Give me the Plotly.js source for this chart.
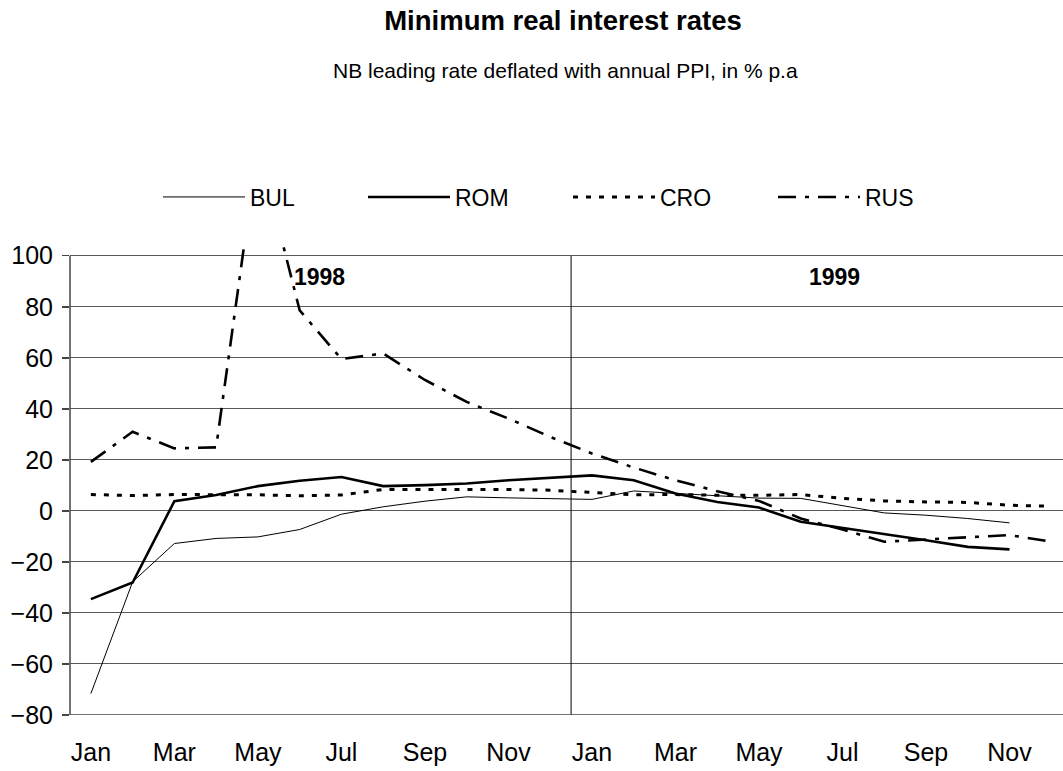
<!DOCTYPE html>
<html>
<head>
<meta charset="utf-8">
<script src="https://cdn.plot.ly/plotly-3.0.1.min.js"></script>
<style>
  html, body { margin: 0; padding: 0; background: #fff; }
  #chart { width: 1063px; height: 771px; }
</style>
</head>
<body>
<div id="chart"></div>
<script>
// ---- data (monthly, Jan 1998 .. Dec 1999) ----
const months = ["Jan","Feb","Mar","Apr","May","Jun","Jul","Aug","Sep","Oct","Nov","Dec",
                "Jan","Feb","Mar","Apr","May","Jun","Jul","Aug","Sep","Oct","Nov","Dec"];
const BUL = [-71.6, -27.8, -12.8, -10.8, -10.2, -7.3, -1.3, 1.6, 3.8, 5.5, 5.1, 4.7,
             4.5, 7.8, 6.8, 5.8, 5.0, 4.9, 2.0, -0.8, -1.7, -3.0, -4.7, null];
const ROM = [-34.6, -28.1, 3.8, 6.2, 9.7, 11.8, 13.3, 9.7, 10.1, 10.7, 12.0, 12.9,
             13.9, 12.0, 6.8, 3.5, 1.3, -4.3, -6.7, -8.9, -11.5, -14.1, -15.1, null];
const CRO = [6.4, 6.0, 6.4, 6.4, 6.3, 5.9, 6.2, 8.4, 8.4, 8.4, 8.4, 8.1,
             7.1, 6.3, 6.4, 6.1, 6.1, 6.4, 4.9, 3.9, 3.5, 3.3, 2.2, 1.8];
const RUS = [19.2, 31.0, 24.5, 24.9, 143, 78.6, 59.5, 61.7, 51.3, 42.7, 36.2, 29.0,
             22.5, 17.0, 12.0, 7.7, 3.9, -3.0, -7.3, -12.1, -11.2, -10.4, -9.5, -12.1];
const yearLabels = ["1998", "1999"];
const yearLabelPos = [5.47, 17.8];
const yearLabelY = 91.6;

const xIdx = months.map((m, i) => i);
const tickIdx = xIdx.filter(i => i % 2 === 0);
const tickText = tickIdx.map(i => months[i]);

const FONT = "Liberation Sans, Arial, sans-serif";

const traces = [
  {name: "BUL", y: BUL, line: {color: "#000", width: 1}},
  {name: "ROM", y: ROM, line: {color: "#000", width: 2.6}},
  {name: "CRO", y: CRO, line: {color: "#000", width: 3, dash: "5px,8px"}},
  {name: "RUS", y: RUS, line: {color: "#000", width: 2.6, dash: "18px,9px,4px,9px"}}
].map(t => Object.assign({x: xIdx, type: "scatter", mode: "lines", hoverinfo: "skip"}, t));

const layout = {
  width: 1063, height: 771,
  paper_bgcolor: "#fff", plot_bgcolor: "#fff",
  margin: {l: 70, r: 0, t: 245, b: 56.3},
  font: {family: FONT, color: "#000", size: 25},
  title: {
    text: "<b>Minimum real interest rates</b>",
    font: {family: FONT, size: 27.5, color: "#000"},
    xref: "container", x: 563 / 1063, xanchor: "center",
    yref: "container", y: 1 - 20 / 771, yanchor: "middle"
  },
  showlegend: true,
  legend: {
    orientation: "h",
    xref: "container", yref: "container",
    x: 158 / 1063, xanchor: "left",
    y: 1 - 197 / 771, yanchor: "middle",
    font: {family: FONT, size: 23, color: "#000"},
    itemwidth: 82,
    entrywidth: 108, entrywidthmode: "pixels",
    bgcolor: "rgba(0,0,0,0)", borderwidth: 0
  },
  xaxis: {
    range: [-0.5, 23.28],
    tickmode: "array", tickvals: tickIdx, ticktext: tickText,
    showgrid: false, zeroline: false, showline: false, ticks: "",
    ticklabelstandoff: 20,
    tickfont: {family: FONT, size: 25, color: "#000"},
    fixedrange: true
  },
  yaxis: {
    range: [-80, 104.2],
    tickmode: "array", tickvals: [-80, -60, -40, -20, 0, 20, 40, 60, 80, 100],
    showgrid: true, gridcolor: "#5a5a5a", gridwidth: 1,
    zeroline: false,
    showline: false,
    ticks: "outside", ticklen: 7, tickcolor: "#444", tickwidth: 1.5,
    ticklabelstandoff: 4,
    tickfont: {family: FONT, size: 25, color: "#000"},
    fixedrange: true
  },
  shapes: [
    {type: "line", xref: "x", yref: "y", x0: 11.5, x1: 11.5, y0: -80, y1: 100,
     line: {color: "#000", width: 1}},
    {type: "line", xref: "paper", yref: "y", x0: 0, x1: 0, y0: -80, y1: 100,
     line: {color: "#444", width: 1.5}},
    {type: "line", xref: "paper", yref: "y", x0: 0, x1: 1, y0: -80, y1: -80,
     line: {color: "#444", width: 1.5}}
  ],
  annotations: [
    {text: "NB leading rate deflated with annual PPI, in % p.a",
     xref: "paper", yref: "paper", x: (565 - 70) / 993, y: 1 + (245 - 71) / 469.7,
     xanchor: "center", yanchor: "middle", showarrow: false,
     font: {family: FONT, size: 21, color: "#000"}}
  ].concat(yearLabels.map((t, i) => ({
     text: "<b>" + t + "</b>", xref: "x", yref: "y",
     x: yearLabelPos[i], y: yearLabelY, xanchor: "center", yanchor: "middle",
     showarrow: false, font: {family: FONT, size: 23, color: "#000"}
  })))
};

Plotly.newPlot("chart", traces, layout, {staticPlot: true, displayModeBar: false});
</script>
</body>
</html>
